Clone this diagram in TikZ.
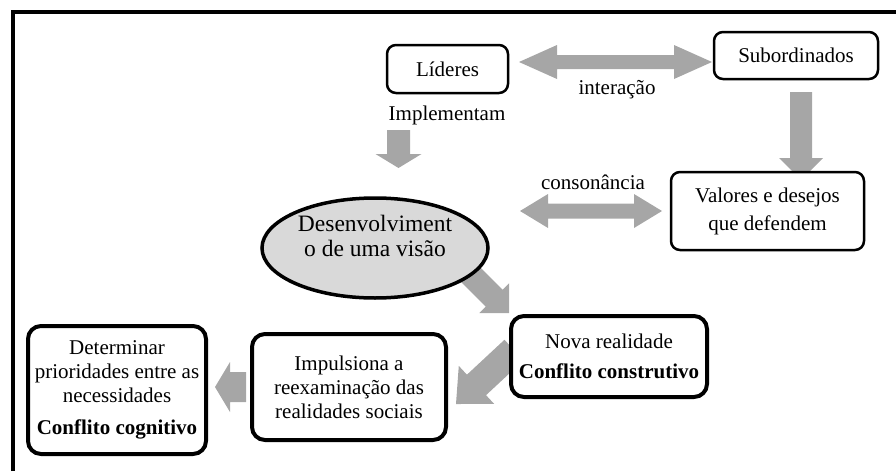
\documentclass[tikz,border=0pt]{standalone}
\usepackage{fontspec}
\setmainfont{Liberation Serif}
\usetikzlibrary{calc,shapes.geometric}

\definecolor{arrowgray}{HTML}{A6A6A6}
\definecolor{visionfill}{HTML}{D9D9D9}

% Block arrow from tail #1 to tip #2: shaft half-width #3, head length #4, head half-width #5
\newcommand\fatarrow[5]{%
  \coordinate (fahead) at ($(#2)!#4!(#1)$);
  \fill[arrowgray] ($(#1)!#3!90:(#2)$) -- ($(fahead)!#3!-90:(#1)$)
    -- ($(fahead)!#5!-90:(#1)$) -- (#2) -- ($(fahead)!#5!90:(#1)$)
    -- ($(fahead)!#3!90:(#1)$) -- ($(#1)!#3!-90:(#2)$) -- cycle;}

% Block arrow with heads at both ends #1 and #2
\newcommand\fatdoublearrow[5]{%
  \coordinate (fahA) at ($(#1)!#4!(#2)$);
  \coordinate (fahB) at ($(#2)!#4!(#1)$);
  \fill[arrowgray] (#1) -- ($(fahA)!#5!90:(#2)$) -- ($(fahA)!#3!90:(#2)$)
    -- ($(fahB)!#3!-90:(#1)$) -- ($(fahB)!#5!-90:(#1)$) -- (#2)
    -- ($(fahB)!#5!90:(#1)$) -- ($(fahB)!#3!90:(#1)$)
    -- ($(fahA)!#3!-90:(#2)$) -- ($(fahA)!#5!-90:(#2)$) -- cycle;}

\tikzset{
  txt/.style={inner sep=0pt, font=\fontsize{21}{24}\selectfont, align=center},
  smallbox/.style={txt, draw, line width=2.5pt, rounded corners=9pt, fill=white},
  bigbox/.style={txt, draw, line width=4pt, rounded corners=13pt, fill=white},
  visionshape/.style={draw, ellipse, line width=3.5pt, fill=visionfill, inner sep=0pt},
}

\begin{document}
\begin{tikzpicture}[x=1pt, y=-1pt]
\useasboundingbox (0,0) rectangle (896,471);

% frame
\draw[line width=4pt] (13,471) -- (13,12) -- (896,12);

% arrow end points
\coordinate (intL) at (519,62);
\coordinate (intR) at (712,62);
\coordinate (impT) at (398.5,130);
\coordinate (impH) at (398.5,168);
\coordinate (subT) at (801,92);
\coordinate (subH) at (801,180);
\coordinate (conL) at (520,211);
\coordinate (conR) at (662,211);
\coordinate (visT) at (460,264);
\coordinate (visH) at (509,313);
\coordinate (novT) at (514,350);
\coordinate (novH) at (456,404);
\coordinate (detT) at (246,387);
\coordinate (detH) at (215,387);

% block arrows
\fatdoublearrow{intL}{intR}{7pt}{38pt}{17pt}
\fatarrow{impT}{impH}{11.5pt}{14pt}{23pt}
\fatarrow{subT}{subH}{11pt}{22pt}{22pt}
\fatdoublearrow{conL}{conR}{7.5pt}{28pt}{17pt}
\fatarrow{visT}{visH}{12pt}{21pt}{21pt}
\fatarrow{novT}{novH}{14pt}{28pt}{26pt}
\fatarrow{detT}{detH}{15pt}{15pt}{25pt}

% boxes
\node[smallbox, minimum width=121pt, minimum height=48pt] (lid) at (447.5,69) {Líderes};
\node[smallbox, minimum width=164pt, minimum height=47pt] (sub) at (796,55.5) {Subordinados};
\node[smallbox, minimum width=193pt, minimum height=78pt] (val) at (767.5,211)
  {Valores e desejos\\[4pt]que defendem};

\node[visionshape, minimum width=226pt, minimum height=100pt] (vis) at (375,248) {};
\node[txt, font=\fontsize{23.5}{25}\selectfont] (vistext) at (375,236)
  {Desenvolviment\\o de uma visão};

\node[bigbox, minimum width=196pt, minimum height=81pt] (nova) at (609,356.5)
  {Nova realidade\\[6pt]\textbf{Conflito construtivo}};
\node[bigbox, minimum width=194pt, minimum height=106pt] (imp) at (349,387)
  {Impulsiona a\\reexaminação das\\realidades sociais};
\node[bigbox, minimum width=178pt, minimum height=128pt] (det) at (117,390)
  {Determinar\\prioridades entre as\\necessidades\\[8pt]\textbf{Conflito cognitivo}};

% arrow labels
\node[txt] (tint) at (617,90) {interação};
\node[txt] (timp) at (447,115) {Implementam};
\node[txt] (tcon) at (593,182) {consonância};
\end{tikzpicture}
\end{document}
